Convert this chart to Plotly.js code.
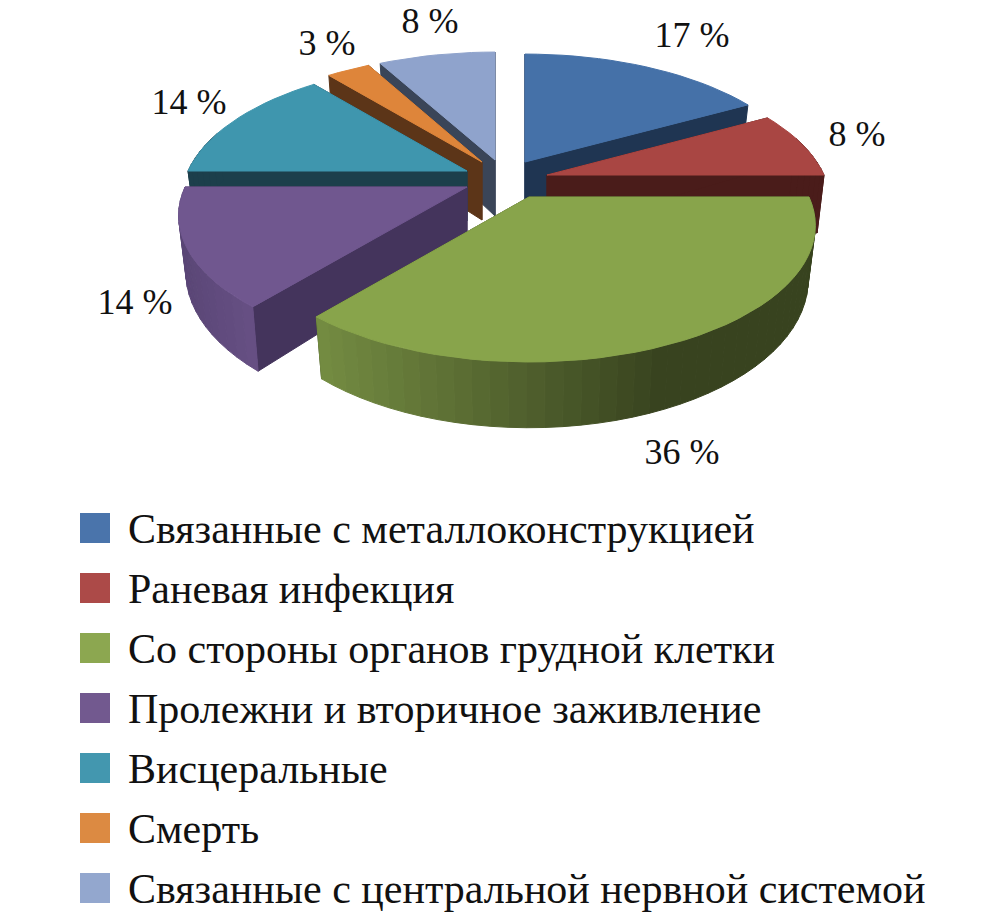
<!DOCTYPE html>
<html><head><meta charset="utf-8">
<script src="https://cdn.plot.ly/plotly-3.0.1.min.js"></script>
<style>html,body{margin:0;padding:0;background:#fff}#c{width:1007px;height:915px}</style>
</head><body><div id="c"></div>
<script>
// --- chart data ---
const categories = ["Связанные с металлоконструкцией","Раневая инфекция","Со стороны органов грудной клетки","Пролежни и вторичное заживление","Висцеральные","Смерть","Связанные с центральной нервной системой"];
const values = [17,8,36,14,14,3,8];
const percentLabels = ["17 %","8 %","36 %","14 %","14 %","3 %","8 %"];

// --- styling ---
const topColors = ["#4571A8","#A94643","#88A44B","#70578F","#3F96AE","#DE853A","#8FA3CC"];
const cutColors = ["#1F3552","#4A1C1A","#38431F","#44345C","#1C3F4B","#5C3518","#3A4558"];
const legendColors = ["#4A74AB","#AC4A48","#8CA750","#72598F","#4397AF","#DC8A42","#93A7CE"];
const apexX = [525,547,529,467,467,482,495];
const apexY = [162,175,197,187,171,162,160];
const radiusX = [280,277,280,282,279,279,282];
const depths = [52,58,52,54,50,58,56];
const labelX = [692,857,682,135,189,327,430];
const labelY = [38,137,455,305,105,46,24];
const drawOrder = [0,6,5,4,1,3,2];
const FONT = "Liberation Serif";
const A = 130.5, K = 0.209, BOTTOM_SCALE = 0.975;

function pt(i, theta, r, lower){
  const u = r*Math.sin(theta), v = r*Math.cos(theta), w = 1 + K*v;
  const s = lower ? BOTTOM_SCALE : 1;
  return [apexX[i] + s*radiusX[i]*u/w, apexY[i] + (-A*v + (lower ? depths[i] : 0))/w];
}
function poly(points, color){
  const xs = points.map(p=>p[0]), ys = points.map(p=>p[1]);
  xs.push(xs[0]); ys.push(ys[0]);
  return {type:"scatter",mode:"lines",x:xs,y:ys,fill:"toself",fillcolor:color,
    line:{color:color,width:1},hoverinfo:"skip",showlegend:false};
}
function mix(a,b,t){
  const h=c=>[1,3,5].map(n=>parseInt(c.substr(n,2),16));
  const A1=h(a),B1=h(b);
  return "rgb("+A1.map((x,n)=>Math.round(x+(B1[n]-x)*t)).join(",")+")";
}
function wallColor(i, x){
  if(i===2){ return mix("#748C42","#38431F",Math.max(0,Math.min(1,(x-316)/(660-316)))); }
  if(i===3){ return mix("#5A4676","#675085",Math.max(0,Math.min(1,(x-180)/(75)))); }
  return cutColors[i];
}

const total = values.reduce((a,b)=>a+b,0);
const starts = []; let acc = 0;
values.forEach(v=>{starts.push(acc/total*2*Math.PI); acc+=v;});

const traces = [];
drawOrder.forEach(i=>{
  const t0 = starts[i], t1 = t0 + values[i]/total*2*Math.PI;
  const steps = Math.max(4, Math.round((t1-t0)/(3*Math.PI/180)));
  const at = n => t0 + (t1-t0)*n/steps;
  // cut faces
  [t1,t0].forEach(t=>{
    traces.push(poly([pt(i,t,0,false),pt(i,t,1,false),pt(i,t,1,true),pt(i,t,0,true)],cutColors[i]));
  });
  // outer wall
  for(let n=0;n<steps;n++){
    const a=at(n), b=at(n+1);
    if(Math.cos((a+b)/2) > 0.3) continue;
    const p=[pt(i,a,1,false),pt(i,b,1,false),pt(i,b,1,true),pt(i,a,1,true)];
    traces.push(poly(p,wallColor(i,(p[0][0]+p[1][0])/2)));
  }
  // top face
  const top=[pt(i,t0,0,false)];
  for(let n=0;n<=steps;n++) top.push(pt(i,at(n),1,false));
  traces.push(poly(top,topColors[i]));
});

// percent labels
traces.push({type:"scatter",mode:"text",x:labelX,y:labelY,text:percentLabels,textposition:"middle center",
  textfont:{family:FONT,size:36,color:"#111"},hoverinfo:"skip",showlegend:false});
// legend
const legendY = categories.map((c,i)=>528+60*i);
traces.push({type:"scatter",mode:"markers",x:categories.map(()=>95),y:legendY,
  marker:{symbol:"square",size:30,color:legendColors,line:{width:0}},hoverinfo:"skip",showlegend:false});
traces.push({type:"scatter",mode:"text",x:categories.map(()=>128),y:legendY.map(y=>y+4),text:categories,textposition:"middle right",
  textfont:{family:FONT,size:42,color:"#111"},hoverinfo:"skip",showlegend:false});

Plotly.newPlot("c",traces,{
  width:1007,height:915,margin:{l:0,r:0,t:0,b:0},paper_bgcolor:"#fff",plot_bgcolor:"#fff",
  xaxis:{range:[0,1007],visible:false,fixedrange:true},
  yaxis:{range:[915,0],visible:false,fixedrange:true},
  showlegend:false
},{displayModeBar:false,staticPlot:true});
</script></body></html>
